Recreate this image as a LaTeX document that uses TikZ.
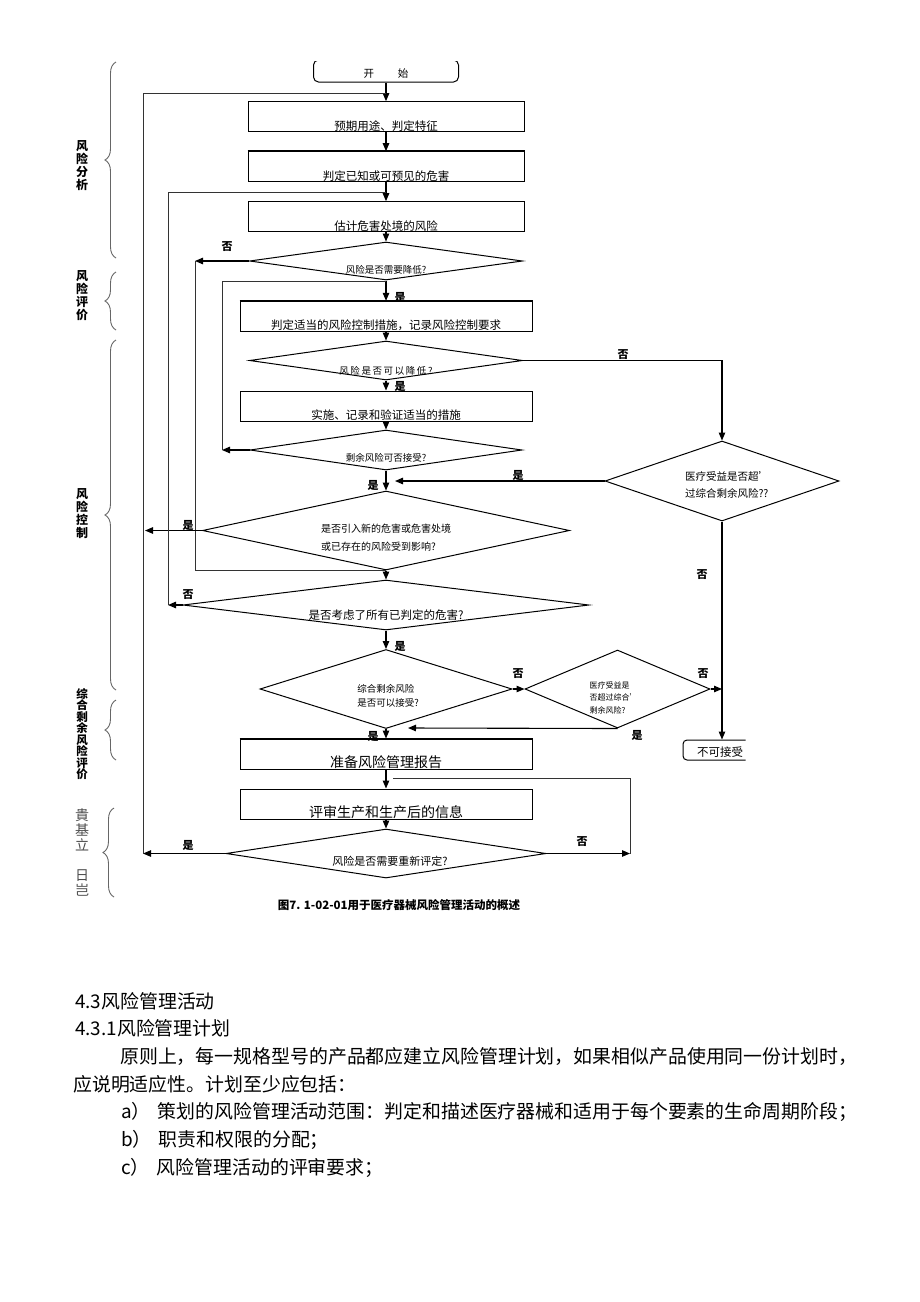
\documentclass[tikz,border=0pt]{standalone}
\usepackage{fontspec}
\setmainfont{Noto Sans CJK SC}
\usetikzlibrary{shapes.geometric,arrows.meta,decorations.pathreplacing}

\begin{document}
\begin{tikzpicture}[x=1pt,y=-1pt,
    every node/.style={inner sep=0pt},
    procbox/.style={draw, line width=1pt, minimum width=#1, minimum height=30pt, text height=28.5pt, text depth=1.5pt, font=\fontsize{11.5}{12}\selectfont},
    bigbox/.style={procbox=#1, text height=28pt, text depth=2pt, font=\fontsize{14}{15}\selectfont},
    question/.style 2 args={diamond, draw, line width=1pt, minimum width=#1, minimum height=#2},
    qtext/.style={font=\fontsize{9.5}{14}\selectfont, align=left},
    flow/.style={line width=1.1pt, -{Triangle[length=8pt,width=6.5pt]}},
    loopline/.style={line width=1pt, black!80},
    answer/.style={font=\fontsize{11}{11}\bfseries\selectfont},
    phase/.style={font=\fontsize{12}{13}\bfseries\selectfont, align=center},
    phasebrace/.style={decorate, decoration={brace, amplitude=11pt}, draw=black!60, line width=0.9pt},
    bodytext/.style={anchor=west, font=\fontsize{18.9}{20}\selectfont}]

    \fill[white] (0,0) rectangle (920,1302);
    \useasboundingbox (0,0) rectangle (920,1302);

    \begin{scope}
        \clip (300,61) rectangle (470,100);
        \node[draw, line width=1pt, rounded corners=5pt, minimum width=145pt, minimum height=22pt, text height=17pt, text depth=5pt, font=\fontsize{10.5}{11}\selectfont] (start) at (386,71) {开\hspace{24pt}始};
    \end{scope}

    \node[procbox=276pt] (b1) at (386,116.7) {预期用途、判定特征};
    \node[procbox=276pt] (b2) at (386,166.7) {判定已知或可预见的危害};
    \node[procbox=276pt] (b3) at (386,216.7) {估计危害处境的风险};
    \node[procbox=292pt] (b4) at (386,316.3) {判定适当的风险控制措施，记录风险控制要求};
    \node[procbox=292pt] (b5) at (386,406) {实施、记录和验证适当的措施};
    \node[bigbox=292pt] (b6) at (386,754) {准备风险管理报告};
    \node[bigbox=292pt] (b7) at (386,804) {评审生产和生产后的信息};
    \draw[line width=2pt] (b2.north west) -- (b2.north east);
    \draw[line width=2pt] (b4.north west) -- (b4.north east);
    \draw[line width=2pt] (b6.north west) -- (b6.north east);

    \node[question={273pt}{38pt}] (d1) at (386,261) {};
    \node[question={273pt}{39pt}] (d2) at (386,360.5) {};
    \node[question={272pt}{40pt}] (d3) at (386,450) {};
    \node[question={367pt}{79pt}] (d4) at (386,530.5) {};
    \node[question={406pt}{50pt}] (d5) at (386,605) {};
    \node[question={252pt}{79pt}] (d6) at (386,689) {};
    \node[question={185pt}{78pt}] (d7) at (617.5,689) {};
    \node[question={234pt}{80pt}] (dr) at (722,481) {};
    \node[question={320pt}{49pt}] (d8) at (386,853.5) {};

    \node[qtext] (q1) at ([yshift=-9pt]d1.center) {风险是否需要降低?};
    \node[qtext] (q2) at ([yshift=-10pt]d2.center) {风\,险\,是\,否\,可\,以\,降\,低\,?};
    \node[qtext] (q3) at ([yshift=-8pt]d3.center) {剩余风险可否接受?};
    \node[qtext, font=\fontsize{10}{17.7}\selectfont] (q4) at ([yshift=-7.5pt]d4.center) {是否引入新的危害或危害处境\\或已存在的风险受到影响?};
    \node[qtext, font=\fontsize{11.5}{12}\selectfont] (q5) at ([yshift=-10pt]d5.center) {是否考虑了所有已判定的危害?};
    \node[qtext] (q6) at ([xshift=2pt,yshift=-6.5pt]d6.center) {综合剩余风险\\是否可以接受?};
    \node[qtext, font=\fontsize{8}{12.5}\selectfont] (q7) at ([xshift=-4pt,yshift=-8.7pt]d7.center) {医疗受益是\\否超过综合'\\剩余风险?};
    \node[qtext, font=\fontsize{10.5}{16.6}\selectfont] (qr) at ([xshift=5pt,yshift=-4pt]dr.center) {医疗受益是否超'\\过综合剩余风险??};
    \node[qtext, font=\fontsize{11}{12}\selectfont] (q8) at ([xshift=4pt,yshift=-8pt]d8.center) {风险是否需要重新评定?};

    \begin{scope}
        \clip (670,730) rectangle (745.5,770);
        \node[draw, line width=1pt, rounded corners=4pt, text width=86pt, align=left, inner xsep=14pt, minimum height=20pt, text height=16pt, text depth=4pt, font=\fontsize{11.5}{12}\selectfont] (nb) at (740,750) {不可接受};
    \end{scope}

    \coordinate (j0) at (386,93);
    \coordinate (j1) at (386,192);
    \coordinate (j3) at (386,281);
    \coordinate (j4) at (386,570);
    \coordinate (j6) at (393,778);
    \coordinate (c1) at (195,261);
    \coordinate (c3) at (222,450);
    \coordinate (c4) at (145,530.5);
    \coordinate (c5) at (168,605);
    \coordinate (c6) at (395,481);
    \coordinate (c7) at (722,689);
    \coordinate (c8) at (143,853.5);
    \coordinate (c9) at (630,853.5);
    \coordinate (c10) at (408,728);

    \draw[flow] (start) -- (b1);
    \draw[flow] (b1) -- (b2);
    \draw[flow] (b2) -- (b3);
    \draw[flow] (b3) -- (d1);
    \draw[flow] (d1) -- (b4);
    \draw[flow] (b4) -- (d2);
    \draw[flow] (d2) -- (b5);
    \draw[flow] (b5) -- (d3);
    \draw[flow] (d3) -- (d4);
    \draw[flow] (d4) -- (d5);
    \draw[flow] (d5) -- (d6);
    \draw[flow] (d6) -- (b6);
    \draw[flow] (b6) -- (b7);
    \draw[flow] (b7) -- (d8);

    \draw[flow] (d1.west) -- (c1);
    \draw[loopline] (c1) |- (j4);
    \draw[flow] (d3.west) -- (c3);
    \draw[loopline] (c3) |- (j3);
    \draw[flow] (d4.west) -- (c4);
    \draw[flow] (d5.west) -- (c5);
    \draw[loopline] (c5) |- (j1);
    \draw[flow] (d8.west) -- (c8);
    \draw[loopline] (c8) |- (j0);
    \draw[flow] (d8.east) -- (c9);
    \draw[loopline] (c9) |- (j6);
    \draw[flow] (d2.east) -| (dr.north);
    \draw[flow] (dr.west) -- (c6);
    \draw[flow] (dr.south) -- (dr.south |- nb.north);
    \draw[flow] (d6.east) -- (d7.west);
    \draw[flow] (d7.east) -- (c7);
    \draw[flow] (d7.south) -- (c10);

    \node[answer] (a1) at (227,247) {否};
    \node[answer] (a2) at (400,297) {是};
    \node[answer] (a3) at (623,355) {否};
    \node[answer] (a4) at (400,386) {是};
    \node[answer] (a5) at (373,485) {是};
    \node[answer] (a6) at (518,475) {是};
    \node[answer] (a7) at (188,525) {是};
    \node[answer] (a8) at (188,595) {否};
    \node[answer] (a9) at (400,646) {是};
    \node[answer] (a10) at (518,674) {否};
    \node[answer] (a11) at (703,674) {否};
    \node[answer] (a12) at (637,735) {是};
    \node[answer] (a13) at (373,736) {是};
    \node[answer] (a14) at (702,575) {否};
    \node[answer] (a15) at (188,845) {是};
    \node[answer] (a16) at (582,842) {否};

    \node[phase] (p1) at (82,166) {风\\险\\分\\析};
    \node[phase] (p2) at (82,296) {风\\险\\评\\价};
    \node[phase] (p3) at (82,514) {风\\险\\控\\制};
    \node[phase, font=\fontsize{11.5}{11.5}\bfseries\selectfont] (p4) at (82,734) {综\\合\\剩\\余\\风\\险\\评\\价};
    \node[font=\fontsize{14}{15}\selectfont, align=center, text=black!70] (p5) at (82,853) {貴\\基\\立\\[15pt]日\\岂};
    \draw[phasebrace] (116,258) -- (116,62);
    \draw[phasebrace] (116,330) -- (116,272);
    \draw[phasebrace] (116,690) -- (116,340);
    \draw[phasebrace] (116,760) -- (116,700);
    \draw[phasebrace] (114,897) -- (114,808);

    \node[font=\fontsize{11.5}{12}\bfseries\selectfont] (cap) at (399,905) {图7. 1-02-01用于医疗器械风险管理活动的概述};

    \node[bodytext] (s1) at (75,1001) {4.3风险管理活动};
    \node[bodytext] (s2) at (75,1028) {4.3.1风险管理计划};
    \node[bodytext] (s3) at (120,1056) {原则上，每一规格型号的产品都应建立风险管理计划，如果相似产品使用同一份计划时，};
    \node[bodytext] (s4) at (73,1084) {应说明适应性。计划至少应包括：};
    \node[bodytext] (s5) at (121,1112) {a）\hspace{7pt}策划的风险管理活动范围：判定和描述医疗器械和适用于每个要素的生命周期阶段；};
    \node[bodytext] (s6) at (121,1140) {b）\hspace{7pt}职责和权限的分配；};
    \node[bodytext] (s7) at (121,1168) {c）\hspace{7pt}风险管理活动的评审要求；};

\end{tikzpicture}
\end{document}
